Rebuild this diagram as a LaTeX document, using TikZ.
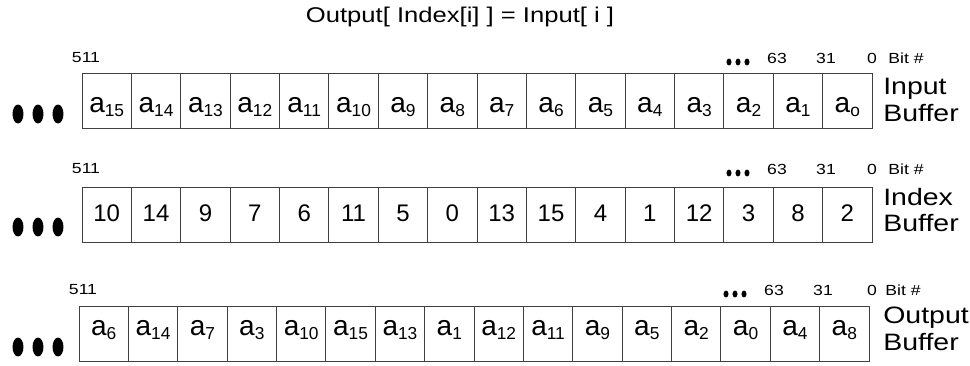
\documentclass[tikz,border=0pt]{standalone}
\usepackage{fontspec}
\setmainfont{Liberation Sans}
\newfontfamily\widesf[FakeStretch=1.2]{Liberation Sans}

\def\xunit{0.75pt}
\def\yunit{-0.75pt}
\def\cellw{49.375}
\newcommand{\asub}[1]{{\fontsize{21}{21}\selectfont a}\raisebox{-3pt}{\fontsize{13}{13}\selectfont #1}}

\tikzset{
  cell/.style={draw=black!75, line width=0.75pt, minimum width=37.03pt, minimum height=41.25pt,
    inner sep=0pt, outer sep=0pt, anchor=north west},
  bitlbl/.style={font=\widesf\fontsize{11}{12}\selectfont, inner sep=0pt},
  buflbl/.style={font=\widesf\fontsize{17.8}{20}\selectfont, align=left, anchor=west, inner sep=0pt},
}

\begin{document}
\begin{tikzpicture}[x=\xunit, y=\yunit]
\useasboundingbox (0,0) rectangle (970,365);

% ---- title ----
\node[font=\widesf\fontsize{16}{18}\selectfont] (title) at (460,17) {Output[ Index[i] ] = Input[ i ]};

% ---- Input buffer: left x=82, top y=73 ----
\begin{scope}[cell/.append style={text height=20pt, text depth=2.75pt}]
\foreach \v [count=\i from 0] in {15,14,13,12,11,10,9,8,7,6,5,4,3,2,1,o}
  \node[cell] (in-\i) at ({82+\i*\cellw},73) {\asub{\v}};
\end{scope}
\node[buflbl] (in-lbl) at (883,100) {Input\\Buffer};

% ---- Index buffer: left x=82, top y=187 ----
\begin{scope}[cell/.append style={text height=15pt, text depth=4.25pt, font=\fontsize{18}{20}\selectfont}]
\foreach \v [count=\i from 0] in {10,14,9,7,6,11,5,0,13,15,4,1,12,3,8,2}
  \node[cell] (idx-\i) at ({82+\i*\cellw},187) {\v};
\end{scope}
\node[buflbl] (idx-lbl) at (883,210) {Index\\Buffer};

% ---- Output buffer: left x=79, top y=306 ----
\begin{scope}[cell/.append style={text height=12pt, text depth=9.75pt}]
\foreach \v [count=\i from 0] in {6,14,7,3,10,15,13,1,12,11,9,5,2,0,4,8}
  \node[cell] (out-\i) at ({79+\i*\cellw},306) {\asub{\v}};
\end{scope}
\node[buflbl] (out-lbl) at (883,329) {Output\\Buffer};

% ---- bit numbers above each buffer ----
\foreach \r/\y/\dx in {in/58/0, idx/169/0, out/290/-3} {
  \node[bitlbl] (\r-511) at (86+\dx,\y) {511};
  \node[bitlbl] (\r-63) at (777+\dx,\y) {63};
  \node[bitlbl] (\r-31) at (826+\dx,\y) {31};
  \node[bitlbl] (\r-0) at (872,\y) {0};
  \node[bitlbl] (\r-bit) at (906+\dx,\y) {Bit \#};
  \foreach \x in {729,738,747}
    \fill (\x+\dx,\y+4) ellipse [x radius=1.9pt, y radius=2.6pt];
}

% ---- big dots left of the buffers ----
\foreach \y in {114,227,347}
  \foreach \x in {18,38,58}
    \fill (\x,\y) ellipse [x radius=4.1pt, y radius=7.1pt];

\end{tikzpicture}
\end{document}
